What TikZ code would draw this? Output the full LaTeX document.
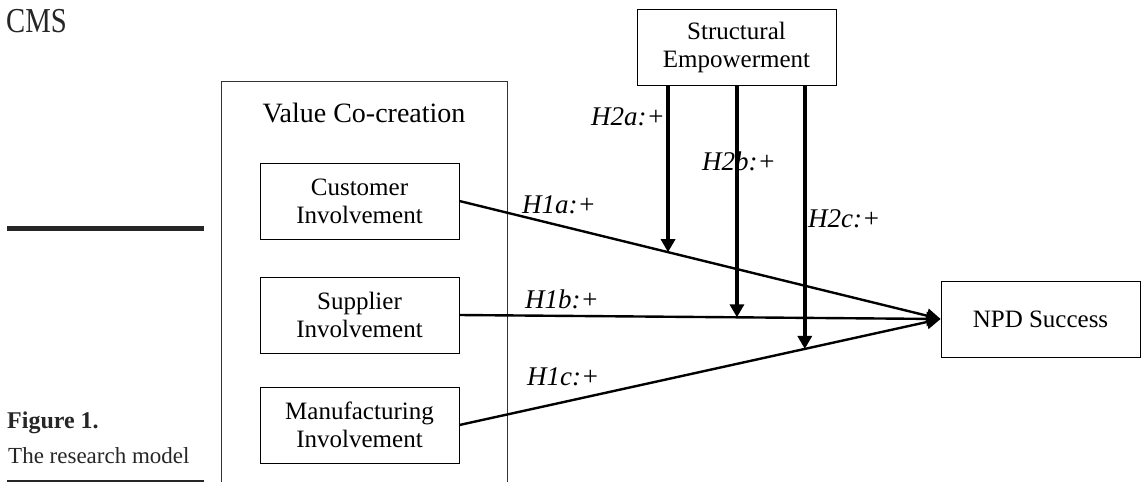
\documentclass[tikz,border=0pt]{standalone}
\usepackage{fontspec}
\setmainfont{Liberation Serif}
\usetikzlibrary{arrows.meta,calc}
\tikzset{
  box/.style={draw, line width=0.9pt, minimum width=199pt, minimum height=76pt, inner sep=0pt, align=center, font=\fontsize{25}{28}\selectfont},
  hyp/.style={anchor=base west, inner sep=0pt, font=\fontsize{27}{29}\selectfont\itshape},
  main/.style={line width=2.4pt, -{Triangle[length=14pt,width=14pt]}},
  modr/.style={line width=3.6pt, -{Triangle[length=13pt,width=14pt]}},
  rule/.style={line width=#1, draw=black!85}
}
\begin{document}
\begin{tikzpicture}[x=1pt,y=-1pt]
\useasboundingbox (0,0) rectangle (1141,482);
% left margin texts and rules
\node[anchor=base west, inner sep=0pt, text=black!85, font=\fontsize{35}{38}\selectfont] (cms) at (6,32) {\scalebox{0.82}[1]{CMS}};
\draw[rule=5pt] (7,228.5) -- (204,228.5);
\node[anchor=base west, inner sep=0pt, text=black!85, font=\fontsize{24}{26}\selectfont\bfseries] (fig) at (7,428) {Figure 1.};
\node[anchor=base west, inner sep=0pt, text=black!85, font=\fontsize{23}{26}\selectfont] (cap) at (8,463) {The research model};
\draw[rule=2pt] (7,480.5) -- (204,480.5);
% Value co-creation open box
\draw[line width=1pt, draw=black!80] (221,482) -- (221,81) -- (507,81) -- (507,482);
\node[inner sep=0pt, anchor=base, font=\fontsize{28}{30}\selectfont] (vcc) at (364,122) {Value Co-creation};
% boxes
\node[box] (cust) at (359.5,201) {Customer\\Involvement};
\node[box] (supp) at (359.5,315) {Supplier\\Involvement};
\node[box] (manu) at (359.5,425) {Manufacturing\\Involvement};
\node[box] (se) at (736.5,47) {Structural\\Empowerment};
\node[box] (npd) at (1040.5,319) {NPD Success};
% main paths
\draw[main] (cust.east) -- (npd.west);
\draw[main] (supp.east) -- (npd.west);
\draw[main] (manu.east) -- (npd.west);
% moderation targets
\coordinate (ta) at ($(cust.east)!0.4336!(npd.west)$);
\coordinate (tb) at ($(supp.east)!0.5768!(npd.west)$);
\coordinate (tc) at ($(manu.east)!0.7178!(npd.west)$);
\draw[modr] (ta |- se.south) -- (ta);
\draw[modr] (tb |- se.south) -- (tb);
\draw[modr] (tc |- se.south) -- (tc);
% hypothesis labels
\node[hyp] (h2a) at (591,125) {H2a:+};
\node[hyp] (h2b) at (702,170) {H2b:+};
\node[hyp] (h2c) at (808,227) {H2c:+};
\node[hyp] (h1a) at (522,213) {H1a:+};
\node[hyp] (h1b) at (525,308) {H1b:+};
\node[hyp] (h1c) at (527,385) {H1c:+};
\end{tikzpicture}
\end{document}
